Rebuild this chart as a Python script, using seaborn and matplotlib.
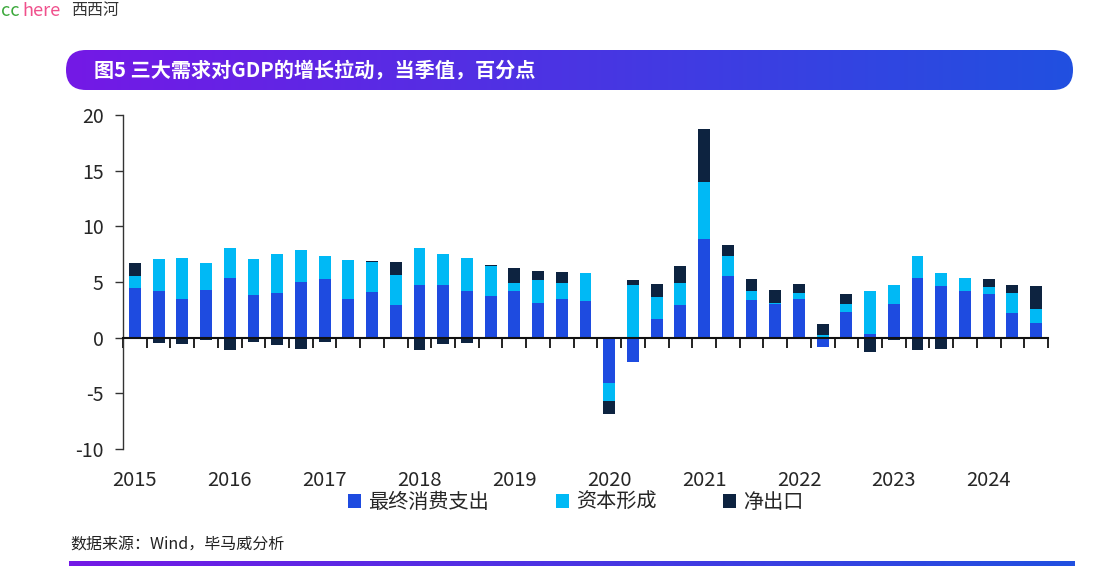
import numpy as np
import pandas as pd
import matplotlib
matplotlib.use("Agg")
import matplotlib.pyplot as plt
import seaborn as sns
from matplotlib.patches import FancyBboxPatch, Patch
from matplotlib.colors import LinearSegmentedColormap
from matplotlib.transforms import blended_transform_factory

# Quarterly contributions to GDP growth (pp), 2015Q1 - 2024Q3
years = [str(y) for y in range(2015, 2025)]
quarters = [f"{y}Q{q}" for y in range(2015, 2025) for q in range(1, 5)][:39]

consumption = [4.5, 4.2, 3.45, 4.3, 5.35, 3.8, 4.0, 5.0, 5.3, 3.45, 4.1, 2.9,
               4.7, 4.7, 4.2, 3.7, 4.15, 3.15, 3.45, 3.3, -4.05, -2.15, 1.65, 2.9,
               8.85, 5.5, 3.4, 3.05, 3.45, -0.85, 2.35, 0.3, 3.0, 5.35, 4.6, 4.15,
               3.9, 2.2, 1.3]
capital = [1.0, 2.9, 3.75, 2.4, 2.7, 3.3, 3.5, 2.9, 2.0, 3.5, 2.7, 2.7,
           3.35, 2.8, 3.0, 2.75, 0.8, 2.0, 1.45, 2.5, -1.65, 4.75, 2.0, 2.0,
           5.1, 1.8, 0.75, 0.1, 0.55, 0.25, 0.7, 3.85, 1.75, 2.0, 1.25, 1.2,
           0.65, 1.85, 1.3]
net_exports = [1.2, -0.5, -0.6, -0.2, -1.1, -0.35, -0.7, -1.0, -0.35, 0.05, 0.1, 1.2,
               -1.1, -0.6, -0.5, 0.1, 1.3, 0.85, 1.0, 0.0, -1.2, 0.45, 1.15, 1.55,
               4.8, 1.0, 1.1, 1.15, 0.85, 0.95, 0.9, -1.3, -0.25, -1.1, -1.0, -0.15,
               0.75, 0.65, 2.0]

series_names = ["最终消费支出", "资本形成", "净出口"]
colors = ["#1e4be0", "#00b9f5", "#0d2340"]

sns.set_theme(style="white")
plt.rcParams['font.family'] = ['Noto Sans CJK SC', 'DejaVu Sans']
plt.rcParams['axes.unicode_minus'] = False

fig = plt.figure(figsize=(11.05, 5.88), dpi=100)

# background decoration layer in pixel coords
deco = fig.add_axes([0, 0, 1, 1], zorder=-1)
grad = LinearSegmentedColormap.from_list("g", ["#7419e6", "#2150e0"])
banner = FancyBboxPatch((66, 50), 1007, 40, boxstyle="round,pad=0,rounding_size=20",
                        transform=deco.transData, facecolor="none", edgecolor="none")
deco.add_patch(banner)
im = deco.imshow(np.linspace(0, 1, 256).reshape(1, -1), cmap=grad, aspect="auto",
                 extent=(66, 1073, 90, 50))
im.set_clip_path(banner)
deco.imshow(np.linspace(0, 1, 256).reshape(1, -1), cmap=grad, aspect="auto",
            extent=(69, 1075, 566, 561))
deco.set_xlim(0, 1105)
deco.set_ylim(588, 0)
deco.axis("off")
deco.text(94, 70, "图5 三大需求对GDP的增长拉动，当季值，百分点", color="white",
          fontsize=14.5, fontweight="bold", va="center", ha="left")
deco.text(70, 545, "数据来源：Wind，毕马威分析", fontsize=11.5, color="#222222",
          va="center", ha="left")
deco.text(1, 11, "cc", color="#3aa83a", fontsize=13, va="center", ha="left")
deco.text(22, 11, "here", color="#f0508c", fontsize=13, va="center", ha="left")
deco.text(71, 11, "西西河", color="#333333", fontsize=11.5, va="center", ha="left")

# main chart
ax = fig.add_axes([123 / 1105, 139 / 588, 925 / 1105, 334 / 588])
df = pd.DataFrame({"quarter": quarters, "cons": consumption,
                   "cap": capital, "net": net_exports})

pos_base = np.zeros(len(df))
neg_base = np.zeros(len(df))
for col, name, c in zip(["cons", "cap", "net"], series_names, colors):
    vals = df[col].to_numpy()
    bottom = np.where(vals >= 0, pos_base, neg_base)
    sns.barplot(data=df, x="quarter", y=col, bottom=bottom, width=0.5, color=c,
                saturation=1, errorbar=None, ax=ax, linewidth=0, zorder=2)
    pos_base = pos_base + np.clip(vals, 0, None)
    neg_base = neg_base + np.clip(vals, None, 0)

n = len(df)
ax.set_xlim(-0.5, n - 0.5)
ax.set_ylim(-10, 20)
ax.set_yticks([-10, -5, 0, 5, 10, 15, 20])
ax.set_xlabel("")
ax.set_ylabel("")
for s in ["top", "right"]:
    ax.spines[s].set_visible(False)
ax.spines["left"].set_color("#333333")
ax.spines["left"].set_linewidth(1.0)
ax.spines["bottom"].set_position(("data", 0))
ax.spines["bottom"].set_color("#111111")
ax.spines["bottom"].set_linewidth(1.5)
ax.spines["bottom"].set_zorder(3)
ax.set_xticks(np.arange(n + 1) - 0.5)
ax.set_xticklabels([])
ax.tick_params(axis="x", bottom=True, direction="out", length=7, width=1.3, color="#111111")
ax.tick_params(axis="y", left=True, direction="out", length=6, width=1.0,
               color="#333333", labelsize=14, pad=8)
ax.grid(False)

tr = blended_transform_factory(ax.transData, ax.transAxes)
for i, y in enumerate(years):
    ax.text(i * 4, -0.095, y, transform=tr, ha="center", va="center", fontsize=14.5)

handles = [Patch(facecolor=c, edgecolor="none") for c in colors]
fig.legend(handles, series_names, loc="center", bbox_to_anchor=(0.521, 0.145), ncol=3,
           frameon=False, fontsize=14.5, handlelength=0.65, handleheight=0.65,
           handletextpad=0.35, columnspacing=3.3)

fig.savefig("out.png", dpi=100)
